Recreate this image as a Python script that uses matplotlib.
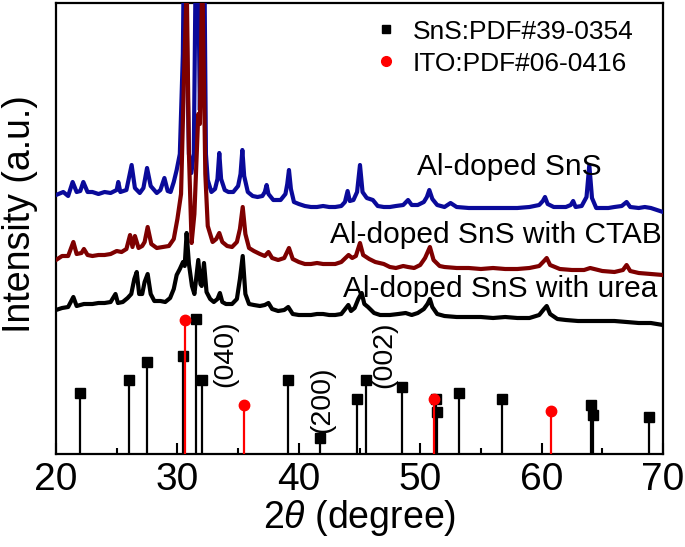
import matplotlib
matplotlib.use("Agg")
import matplotlib.pyplot as plt
from matplotlib.lines import Line2D

plt.rcParams['font.family'] = ['Liberation Sans', 'DejaVu Sans']
plt.rcParams['mathtext.fontset'] = 'custom'
plt.rcParams['mathtext.it'] = 'Liberation Sans:italic'
plt.rcParams['mathtext.rm'] = 'Liberation Sans'

# ---------------- data (heights in arbitrary units) ----------------
blue_x = [20.0, 20.6, 21.0, 21.37, 21.7, 22.0, 22.25, 22.6, 23.0, 23.5, 24.0, 24.5, 25.0, 25.13, 25.3,
          25.8, 26.23, 26.5, 26.9, 27.2, 27.5, 27.8, 28.3, 28.6, 28.93, 29.2, 29.44, 29.7, 29.94, 30.2,
          30.45, 30.62, 30.8, 30.95, 31.15, 31.35, 31.6, 31.85, 32.15, 32.35, 32.5, 32.8, 33.1, 33.3,
          33.45, 33.6, 33.9, 34.2, 34.6, 35.0, 35.2, 35.35, 35.5, 35.8, 36.2, 36.6, 37.0, 37.2, 37.35,
          37.5, 37.9, 38.5, 38.9, 39.05, 39.19, 39.35, 39.6, 40.0, 40.5, 41.0, 41.5, 42.0, 42.5, 43.0,
          43.5, 43.8, 44.02, 44.2, 44.5, 44.8, 45.04, 45.25, 45.6, 46.1, 46.5, 47.0, 47.5, 48.0, 48.6,
          49.0, 49.3, 49.8, 50.3, 50.55, 50.75, 51.0, 51.4, 52.0, 52.5, 53.0, 54.0, 55.0, 56.0, 57.0,
          58.0, 59.0, 59.8, 60.1, 60.28, 60.5, 61.0, 61.5, 62.0, 62.4, 62.6, 62.8, 63.3, 63.7, 63.93,
          64.15, 64.5, 65.0, 65.5, 66.0, 66.6, 67.0, 67.3, 68.0, 68.5, 69.0, 70.0]
blue_y = [259, 262, 258, 272, 262, 263, 272, 262, 262, 260, 262, 261, 264, 272, 262,
          264, 289, 266, 261, 266, 286, 268, 261, 264, 276, 263, 262, 272, 284, 300,
          400, 600, 400, 300, 281, 300, 600, 344, 600, 300, 274, 262, 265, 275,
          301, 275, 264, 262, 262, 268, 280, 304, 278, 262, 258, 257, 258, 262, 269,
          260, 254, 254, 260, 270, 284, 265, 252, 250, 248, 247, 247, 248, 247, 247,
          248, 252, 263, 253, 254, 262, 289, 262, 256, 254, 248, 247, 247, 248, 249,
          254, 249, 249, 252, 257, 264, 255, 249, 247, 251, 247, 246, 246, 246, 246,
          246, 247, 249, 253, 257, 250, 247, 247, 247, 249, 253, 247, 248, 257, 289,
          256, 246, 246, 246, 247, 248, 252, 247, 246, 247, 246, 242]

red_x = [20.0, 20.5, 21.0, 21.43, 21.7, 22.1, 22.3, 22.6, 23.0, 23.5, 24.0, 24.5, 25.0, 25.4, 25.8,
         26.1, 26.3, 26.5, 26.8, 27.1, 27.3, 27.55, 27.85, 28.3, 28.8, 29.3, 29.7, 30.0, 30.3, 30.55,
         30.77, 30.95, 31.17, 31.4, 31.72, 31.85, 32.05, 32.3, 32.5, 32.9, 33.2, 33.45, 33.7, 34.1,
         34.5, 34.9, 35.15, 35.38, 35.6, 35.9, 36.3, 36.8, 37.2, 37.5, 37.8, 38.3, 38.8, 39.19, 39.5,
         40.0, 40.5, 41.0, 41.5, 42.0, 42.5, 43.0, 43.5, 44.1, 44.4, 44.7, 45.04, 45.3, 45.8, 46.3,
         47.0, 47.5, 48.0, 48.6, 49.0, 49.5, 50.0, 50.4, 50.8, 51.1, 51.6, 52.0, 53.0, 54.0, 55.0,
         56.0, 57.0, 58.0, 59.0, 59.8, 60.2, 60.42, 60.7, 61.5, 62.5, 63.5, 64.0, 65.0, 66.0, 66.7,
         67.0, 67.3, 68.0, 69.0, 70.0]
red_y = [194, 198, 198, 212, 200, 201, 205, 199, 198, 199, 199, 200, 203, 202, 205,
         219, 207, 218, 206, 208, 212, 227, 210, 206, 207, 208, 215, 235, 260, 380,
         470, 300, 211, 240, 340, 330, 480, 280, 228, 212, 215, 221, 212, 208,
         207, 212, 225, 247, 220, 206, 203, 200, 198, 202, 196, 194, 196, 206, 195,
         192, 190, 190, 191, 190, 190, 190, 192, 199, 196, 198, 211, 199, 195, 192,
         190, 187, 186, 188, 187, 186, 189, 196, 207, 194, 188, 187, 186, 186, 185,
         186, 185, 185, 186, 188, 193, 196, 189, 185, 184, 184, 186, 183, 182, 184,
         189, 183, 181, 180, 179]

black_x = [20.0, 20.5, 21.0, 21.43, 21.7, 22.0, 22.3, 22.6, 23.0, 23.5, 24.0, 24.5, 24.9, 25.1, 25.5,
           25.9, 26.2, 26.45, 26.65, 26.85, 27.1, 27.3, 27.55, 27.8, 28.1, 28.6, 29.0, 29.4, 29.7,
           29.94, 30.2, 30.46, 30.6, 30.76, 30.95, 31.2, 31.4, 31.72, 31.9, 32.0, 32.19, 32.4, 32.7,
           33.0, 33.3, 33.5, 33.7, 34.0, 34.5, 34.9, 35.15, 35.38, 35.6, 35.9, 36.3, 36.8, 37.2, 37.5,
           37.8, 38.3, 38.8, 39.13, 39.5, 40.0, 40.5, 41.0, 41.5, 42.0, 42.5, 43.0, 43.5, 44.08, 44.3,
           44.6, 44.9, 45.18, 45.4, 45.7, 46.2, 46.7, 47.5, 48.2, 48.8, 49.3, 49.8, 50.3, 50.6, 50.8,
           51.0, 51.4, 52.0, 53.0, 54.0, 55.0, 56.0, 57.0, 58.0, 59.0, 59.8, 60.2, 60.42, 60.7, 61.3,
           62.0, 63.0, 64.0, 65.0, 66.0, 67.0, 68.0, 69.0, 70.0]
black_y = [144, 146, 147, 157, 148, 149, 150, 150, 150, 151, 151, 152, 160, 151, 152,
           156, 160, 175, 182, 160, 160, 172, 180, 160, 153, 153, 152, 156, 165,
           179, 185, 192, 188, 221, 190, 168, 160, 194, 170, 168, 191, 162, 155,
           152, 155, 161, 152, 150, 150, 155, 175, 198, 160, 150, 149, 148, 149, 151,
           145, 143, 144, 147, 140, 139, 139, 139, 140, 140, 139, 139, 140, 149, 143,
           146, 155, 161, 150, 147, 141, 139, 139, 140, 141, 139, 141, 145, 150, 155,
           147, 140, 138, 137, 137, 137, 136, 137, 136, 136, 139, 145, 148, 140, 135,
           134, 133, 133, 133, 133, 132, 131, 131, 129]

sns_pos = [22.0, 26.0, 27.47, 30.46, 31.53, 32.0, 39.08, 41.75, 44.8, 45.5, 48.53, 51.28, 51.35,
           53.2, 56.77, 64.07, 64.26, 68.82]
sns_h = [61, 74, 92, 98, 135, 74, 74, 16, 55, 74, 67, 55, 42, 61, 55, 49, 39, 37]

ito_pos = [30.6, 35.49, 51.1, 60.75]
ito_h = [134, 49, 55, 43]

curve_labels = ['Al-doped SnS', 'Al-doped SnS with CTAB', 'Al-doped SnS with urea']
legend_labels = ['SnS:PDF#39-0354', 'ITO:PDF#06-0416']
hkl_labels = ['(040)', '(200)', '(002)']
hkl_x = [33.92, 41.95, 47.03]
hkl_y = [100, 54, 99]
xticks = [20, 30, 40, 50, 60, 70]

# ---------------- figure ----------------
fig = plt.figure(figsize=(6.85, 5.47), dpi=100)
ax = fig.add_axes([56/685, 93/547, 607/685, 451/547])

blue_c = '#0A0A9A'
red_c = '#7E0000'

ax.plot(blue_x, blue_y, color=blue_c, lw=3.0, zorder=3)
ax.plot(red_x, red_y, color=red_c, lw=3.0, zorder=4)
ax.plot(black_x, black_y, color='black', lw=3.0, zorder=5)

ax.vlines(sns_pos, 0, sns_h, color='black', lw=1.6, zorder=6)
ax.plot(sns_pos, sns_h, ls='none', marker='s', ms=6.5, color='black', zorder=7)
ax.vlines(ito_pos, 0, ito_h, color='#FF0000', lw=1.6, zorder=8)
ax.plot(ito_pos, ito_h, ls='none', marker='o', ms=7.5, color='#FF0000', zorder=9)

# curve labels
ax.text(49.71, 279, curve_labels[0], fontsize=21.5, ha='left', va='baseline', zorder=10)
ax.text(42.57, 211, curve_labels[1], fontsize=21.5, ha='left', va='baseline', zorder=10)
ax.text(43.64, 157, curve_labels[2], fontsize=21.5, ha='left', va='baseline', zorder=10)

for lab, xx, yy in zip(hkl_labels, hkl_x, hkl_y):
    ax.text(xx, yy, lab, fontsize=20.5, rotation=90, ha='center', va='center', zorder=10)

handles = [Line2D([], [], ls='none', marker='s', ms=6, color='black'),
           Line2D([], [], ls='none', marker='o', ms=7, color='#FF0000')]
ax.legend(handles, legend_labels, loc='upper left', bbox_to_anchor=(0.5225, 0.963),
          frameon=False, fontsize=19, handlelength=1.0, handletextpad=0.5,
          labelspacing=0.3, borderpad=0, borderaxespad=0)

ax.set_xlim(20, 70)
ax.set_ylim(0, 451)
ax.set_xticks(xticks)
ax.set_xticks([25, 35, 45, 55, 65], minor=True)
ax.set_yticks([])
ax.tick_params(axis='x', which='major', direction='in', length=8, width=1.5, labelsize=28, pad=6)
ax.tick_params(axis='x', which='minor', direction='in', length=4.5, width=1.5)
for s in ax.spines.values():
    s.set_linewidth(1.6)

ax.set_xlabel(r'2$\theta$ (degree)', fontsize=27, labelpad=0)
ax.set_ylabel('Intensity (a.u.)', fontsize=27)
ax.yaxis.set_label_coords(-0.03, 0.532)

fig.savefig('out.png', dpi=100)
